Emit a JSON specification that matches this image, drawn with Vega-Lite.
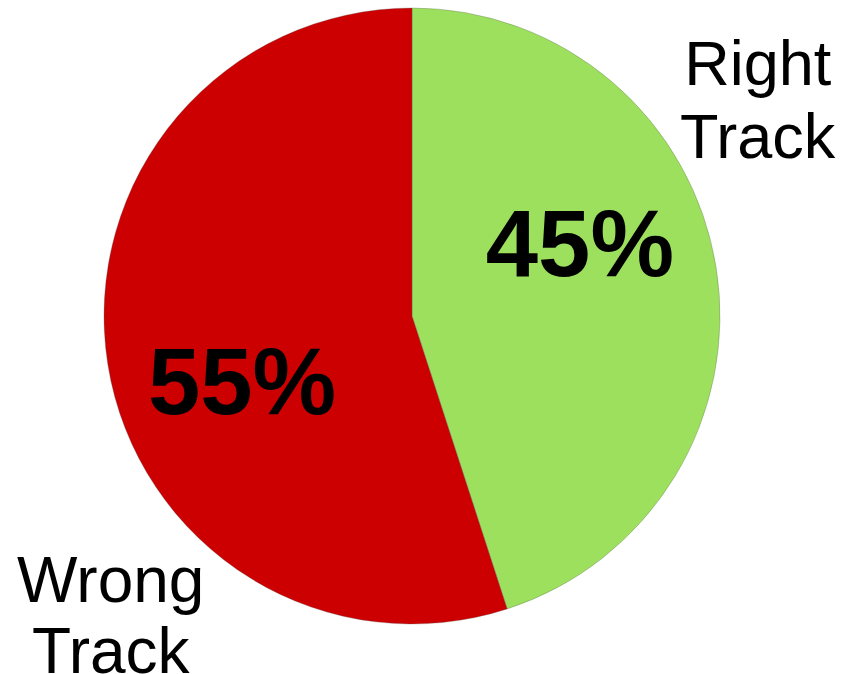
{
  "$schema": "https://vega.github.io/schema/vega-lite/v6.json",
  "width": 616,
  "height": 616,
  "autosize": {"type": "none"},
  "padding": {"left": 104, "top": 8, "right": 135, "bottom": 50},
  "background": "white",
  "config": {"view": {"stroke": null}},
  "data": {"values": [
    {"category": "Right Track", "value": 45, "pct": "45%"},
    {"category": "Wrong Track", "value": 55, "pct": "55%"}
  ]},
  "encoding": {
    "theta": {"field": "value", "type": "quantitative", "stack": true},
    "color": {"field": "category", "type": "nominal", "legend": null,
      "scale": {"domain": ["Right Track", "Wrong Track"], "range": ["#9de05d", "#cc0000"]}}
  },
  "layer": [
    {"mark": {"type": "arc", "outerRadius": 308, "stroke": "#5a5a5a", "strokeWidth": 0.6, "strokeOpacity": 0.5}},
    {"mark": {"type": "text", "radius": 170, "dx": 0, "dy": -13, "baseline": "alphabetic", "align": "center",
      "font": "Liberation Sans", "fontWeight": "bold", "fontSize": 94, "fill": "black"},
     "encoding": {"text": {"condition": {"test": "datum.category == 'Right Track'", "field": "pct"}, "value": ""},
       "color": {"value": "black"}}},
    {"mark": {"type": "text", "radius": 172, "dx": 0, "dy": 71, "baseline": "alphabetic", "align": "center",
      "font": "Liberation Sans", "fontWeight": "bold", "fontSize": 94, "fill": "black"},
     "encoding": {"text": {"condition": {"test": "datum.category == 'Wrong Track'", "field": "pct"}, "value": ""},
       "color": {"value": "black"}}},
    {"mark": {"type": "text", "radius": 350, "dx": 0, "dy": -176, "baseline": "alphabetic", "align": "center",
      "font": "Liberation Sans", "fontSize": 63, "lineHeight": 73, "fill": "black"},
     "encoding": {"text": {"condition": {"test": "datum.category == 'Right Track'", "value": ["Right", "Track"]}, "value": ""},
       "color": {"value": "black"}}},
    {"mark": {"type": "text", "radius": 305, "dx": 0, "dy": 238, "baseline": "alphabetic", "align": "center",
      "font": "Liberation Sans", "fontSize": 64, "lineHeight": 71, "fill": "black"},
     "encoding": {"text": {"condition": {"test": "datum.category == 'Wrong Track'", "value": ["Wrong", "Track"]}, "value": ""},
       "color": {"value": "black"}}}
  ]
}
